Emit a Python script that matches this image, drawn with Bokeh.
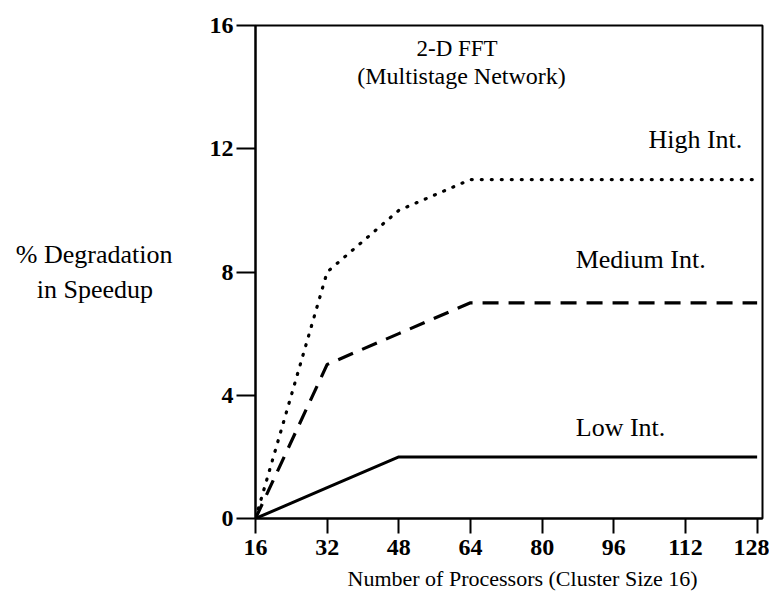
from bokeh.plotting import figure
from bokeh.models import Range1d, FixedTicker, Label, Title
from bokeh.embed import file_html
from bokeh.resources import INLINE

processors = [16, 32, 48, 64, 128]
high_int = [0, 8, 10, 11, 11]
medium_int = [0, 5, 6, 7, 7]
low_int = [0, 1, 2, 2, 2]
x_ticks = [16, 32, 48, 64, 80, 96, 112, 128]
y_ticks = [0, 4, 8, 12, 16]

FONT = "Liberation Serif"

p = figure(width=769, height=604, output_backend="svg", toolbar_location=None,
           x_range=Range1d(16, 129.2), y_range=Range1d(0, 16),
           min_border_left=255, min_border_right=7, min_border_top=25, min_border_bottom=86)
p.grid.visible = False
p.background_fill_color = "white"
p.border_fill_color = "white"
p.outline_line_color = "black"
p.outline_line_width = 2

p.xaxis.ticker = FixedTicker(ticks=x_ticks)
p.yaxis.ticker = FixedTicker(ticks=y_ticks)
for ax in (p.xaxis[0], p.yaxis[0]):
    ax.axis_line_width = 2
    ax.major_tick_line_width = 2
    ax.major_tick_in = 0
    ax.minor_tick_line_color = None
    ax.major_label_text_font = FONT
    ax.major_label_text_font_size = "24px"
    ax.major_label_text_font_style = "bold"
    ax.major_label_text_color = "black"
    ax.axis_label_text_font = FONT
    ax.axis_label_text_font_style = "normal"
    ax.axis_label_text_color = "black"
p.xaxis.major_tick_out = 15
p.yaxis.major_tick_out = 19
p.yaxis.major_label_standoff = 3
p.xaxis.major_label_standoff = 6

# second line padded with no-break spaces so the two lines look centred
p.yaxis.axis_label = "% Degradation\nin Speedup\u00a0\u00a0\u00a0"
p.yaxis.axis_label_orientation = "horizontal"
p.yaxis.axis_label_text_font_size = "26px"
p.yaxis.axis_label_standoff = 34

p.add_layout(Title(text="Number of Processors (Cluster Size 16)", align="left", offset=92,
                   text_font=FONT, text_font_size="22px", text_font_style="normal",
                   text_color="black", standoff=13), "below")

p.line(processors, high_int, line_color="black", line_width=3.2, line_dash="1 9", line_cap="round")
p.line(processors, medium_int, line_color="black", line_width=3.2, line_dash="16 10")
p.line(processors, low_int, line_color="black", line_width=3)

def add_label(x, y, t, size):
    p.add_layout(Label(x=x, y=y, text=t, text_font=FONT, text_font_size=size,
                       text_color="black", text_align="center", text_baseline="middle"))

add_label(61, 15.25, "2-D FFT", "23px")
add_label(62, 14.35, "(Multistage Network)", "24px")
add_label(114.2, 12.3, "High Int.", "26px")
add_label(102, 8.4, "Medium Int.", "26px")
add_label(97.5, 2.95, "Low Int.", "26px")

open("out.html", "w").write(file_html(p, INLINE))
